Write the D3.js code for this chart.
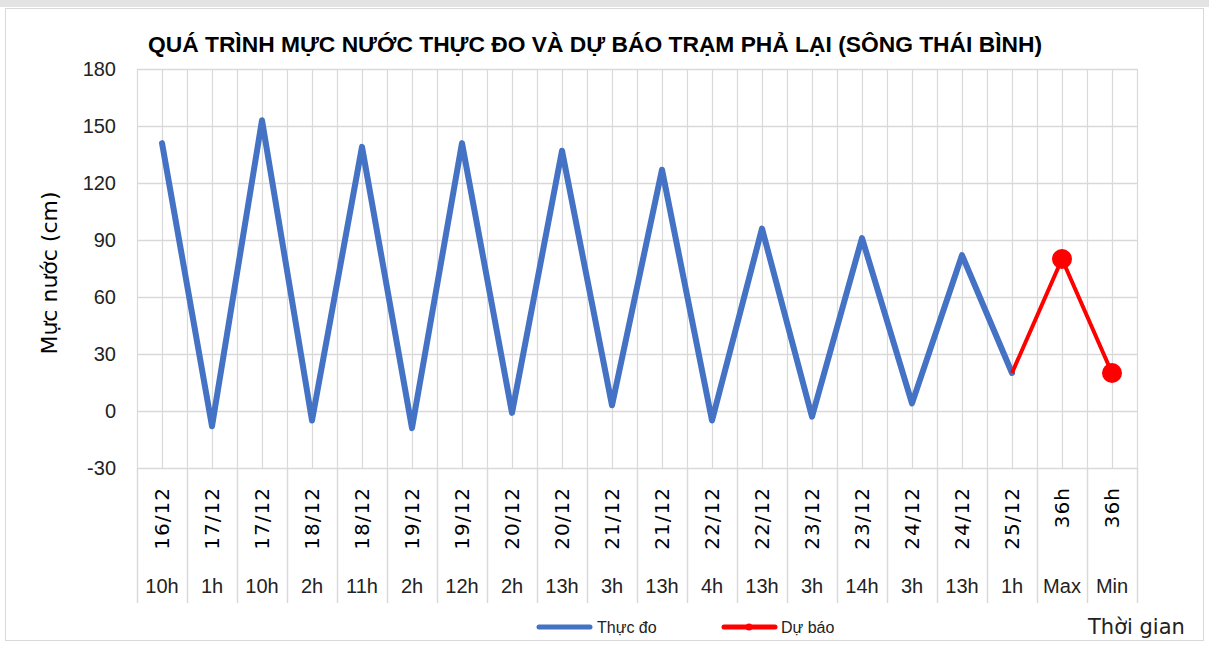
<!DOCTYPE html>
<html>
<head>
<meta charset="utf-8">
<script src="https://cdn.jsdelivr.net/npm/d3@7"></script>
<style>
  html, body { margin: 0; padding: 0; background: #fff; }
  svg { display: block; }
</style>
</head>
<body>
<svg id="chart" width="1209" height="646"></svg>
<script>
const title = "QUÁ TRÌNH MỰC NƯỚC THỰC ĐO VÀ DỰ BÁO TRẠM PHẢ LẠI (SÔNG THÁI BÌNH)";
const dates = ["16/12", "17/12", "17/12", "18/12", "18/12", "19/12", "19/12", "20/12", "20/12", "21/12",
  "21/12", "22/12", "22/12", "23/12", "23/12", "24/12", "24/12", "25/12", "36h", "36h"];
const hours = ["10h", "1h", "10h", "2h", "11h", "2h", "12h", "2h", "13h", "3h",
  "13h", "4h", "13h", "3h", "14h", "3h", "13h", "1h", "Max", "Min"];
// Thực đo: points 0..17
const observed = [141, -8, 153, -5, 139, -9, 141, -1, 137, 3, 127, -5, 96, -3, 91, 4, 82, 20];
// Dự báo: starts at last observed point
const forecastStart = 17;
const forecast = [20, 80, 20];
const yTicks = [-30, 0, 30, 60, 90, 120, 150, 180];

const blue = "#4472c4",
  red = "#ff0000",
  grid = "#d9d9d9",
  textColor = "#000";

const svg = d3.select("#chart");
const plotLeft = 137, plotRight = 1137, plotTop = 69, plotBottom = 468;

const x = d3.scaleBand().domain(d3.range(dates.length)).range([plotLeft, plotRight]);
const cx = (i) => x(i) + x.bandwidth() / 2;
const y = d3.scaleLinear().domain([-30, 180]).range([plotBottom, plotTop]);

// chart frame
svg.append("rect").attr("x", 0).attr("y", 0).attr("width", 1209).attr("height", 7).attr("fill", "#e3e3e3");
svg.append("rect")
  .attr("x", 5.5).attr("y", 8.5).attr("width", 1198).attr("height", 632)
  .attr("fill", "#fff").attr("stroke", grid);

// title
svg.append("text")
  .attr("x", 148).attr("y", 52)
  .attr("textLength", 894).attr("lengthAdjust", "spacingAndGlyphs")
  .style("font-family", "'Liberation Sans', Arial, sans-serif")
  .style("font-weight", "bold").style("font-size", "22px")
  .attr("fill", textColor)
  .text(title);

// grid
const g = svg.append("g");
g.selectAll("line.h").data(yTicks).enter().append("line")
  .attr("x1", plotLeft).attr("x2", plotRight)
  .attr("y1", (d) => y(d) + 0.5).attr("y2", (d) => y(d) + 0.5)
  .attr("stroke", grid).attr("stroke-width", 1.5);

const vlines = d3.range(dates.length * 2 + 1).map((k) => plotLeft + (k * x.bandwidth()) / 2);
g.selectAll("line.v").data(vlines).enter().append("line")
  .attr("x1", (d) => Math.round(d) + 0.5).attr("x2", (d) => Math.round(d) + 0.5)
  .attr("y1", plotTop).attr("y2", plotBottom)
  .attr("stroke", grid).attr("stroke-width", 1.2);

// category separators below the axis
const seps = d3.range(dates.length + 1).map((k) => plotLeft + k * x.bandwidth());
g.selectAll("line.s").data(seps).enter().append("line")
  .attr("x1", (d) => Math.round(d) + 0.5).attr("x2", (d) => Math.round(d) + 0.5)
  .attr("y1", plotBottom).attr("y2", 603)
  .attr("stroke", grid).attr("stroke-width", 1.5);

// y tick labels
svg.append("g").selectAll("text").data(yTicks).enter().append("text")
  .attr("x", 116).attr("y", (d) => y(d) + 7)
  .attr("text-anchor", "end")
  .style("font-family", "'Liberation Sans', Arial, sans-serif").style("font-size", "20px")
  .attr("fill", "#222")
  .text((d) => d);

// y title
svg.append("text")
  .attr("transform", "translate(57,273) rotate(-90)")
  .attr("text-anchor", "middle")
  .style("font-family", "'DejaVu Sans', sans-serif").style("font-size", "22px")
  .attr("fill", textColor)
  .text("Mực nước (cm)");

// x labels
const xl = svg.append("g");
xl.selectAll("text.d").data(dates).enter().append("text")
  .attr("transform", (d, i) => `translate(${cx(i) + 7},487) rotate(-90)`)
  .attr("text-anchor", "end")
  .style("font-family", "'DejaVu Sans', sans-serif").style("font-size", "20px")
  .style("letter-spacing", "1px")
  .attr("fill", textColor)
  .text((d) => d);
xl.selectAll("text.h").data(hours).enter().append("text")
  .attr("x", (d, i) => cx(i)).attr("y", 593)
  .attr("text-anchor", "middle")
  .style("font-family", "'Liberation Sans', Arial, sans-serif").style("font-size", "20px")
  .attr("fill", "#222")
  .text((d) => d);

// series
const line = d3.line().x((d) => cx(d.i)).y((d) => y(d.v));
const obsData = observed.map((v, i) => ({ i, v }));
const fcData = forecast.map((v, k) => ({ i: forecastStart + k, v }));

svg.append("path").datum(obsData)
  .attr("d", line).attr("fill", "none")
  .attr("stroke", blue).attr("stroke-width", 6)
  .attr("stroke-linejoin", "round").attr("stroke-linecap", "round");

svg.append("path").datum(fcData)
  .attr("d", line).attr("fill", "none")
  .attr("stroke", red).attr("stroke-width", 4)
  .attr("stroke-linejoin", "round");

svg.append("g").selectAll("circle").data(fcData.slice(1)).enter().append("circle")
  .attr("cx", (d) => cx(d.i)).attr("cy", (d) => y(d.v)).attr("r", 10)
  .attr("fill", red);

// legend
const lg = svg.append("g")
  .style("font-family", "'Liberation Sans', Arial, sans-serif").style("font-size", "16px");
lg.append("line").attr("x1", 539).attr("x2", 590).attr("y1", 627).attr("y2", 627)
  .attr("stroke", blue).attr("stroke-width", 5).attr("stroke-linecap", "round");
lg.append("text").attr("x", 597).attr("y", 633).attr("fill", "#222").text("Thực đo");
lg.append("line").attr("x1", 724).attr("x2", 775).attr("y1", 627).attr("y2", 627)
  .attr("stroke", red).attr("stroke-width", 5).attr("stroke-linecap", "round");
lg.append("circle").attr("cx", 749).attr("cy", 627).attr("r", 3.5).attr("fill", red);
lg.append("text").attr("x", 781).attr("y", 633).attr("fill", "#222").text("Dự báo");

svg.append("text")
  .attr("x", 1088).attr("y", 634)
  .style("font-family", "'DejaVu Sans', sans-serif").style("font-size", "21px")
  .attr("fill", "#222")
  .text("Thời gian");
</script>
</body>
</html>
